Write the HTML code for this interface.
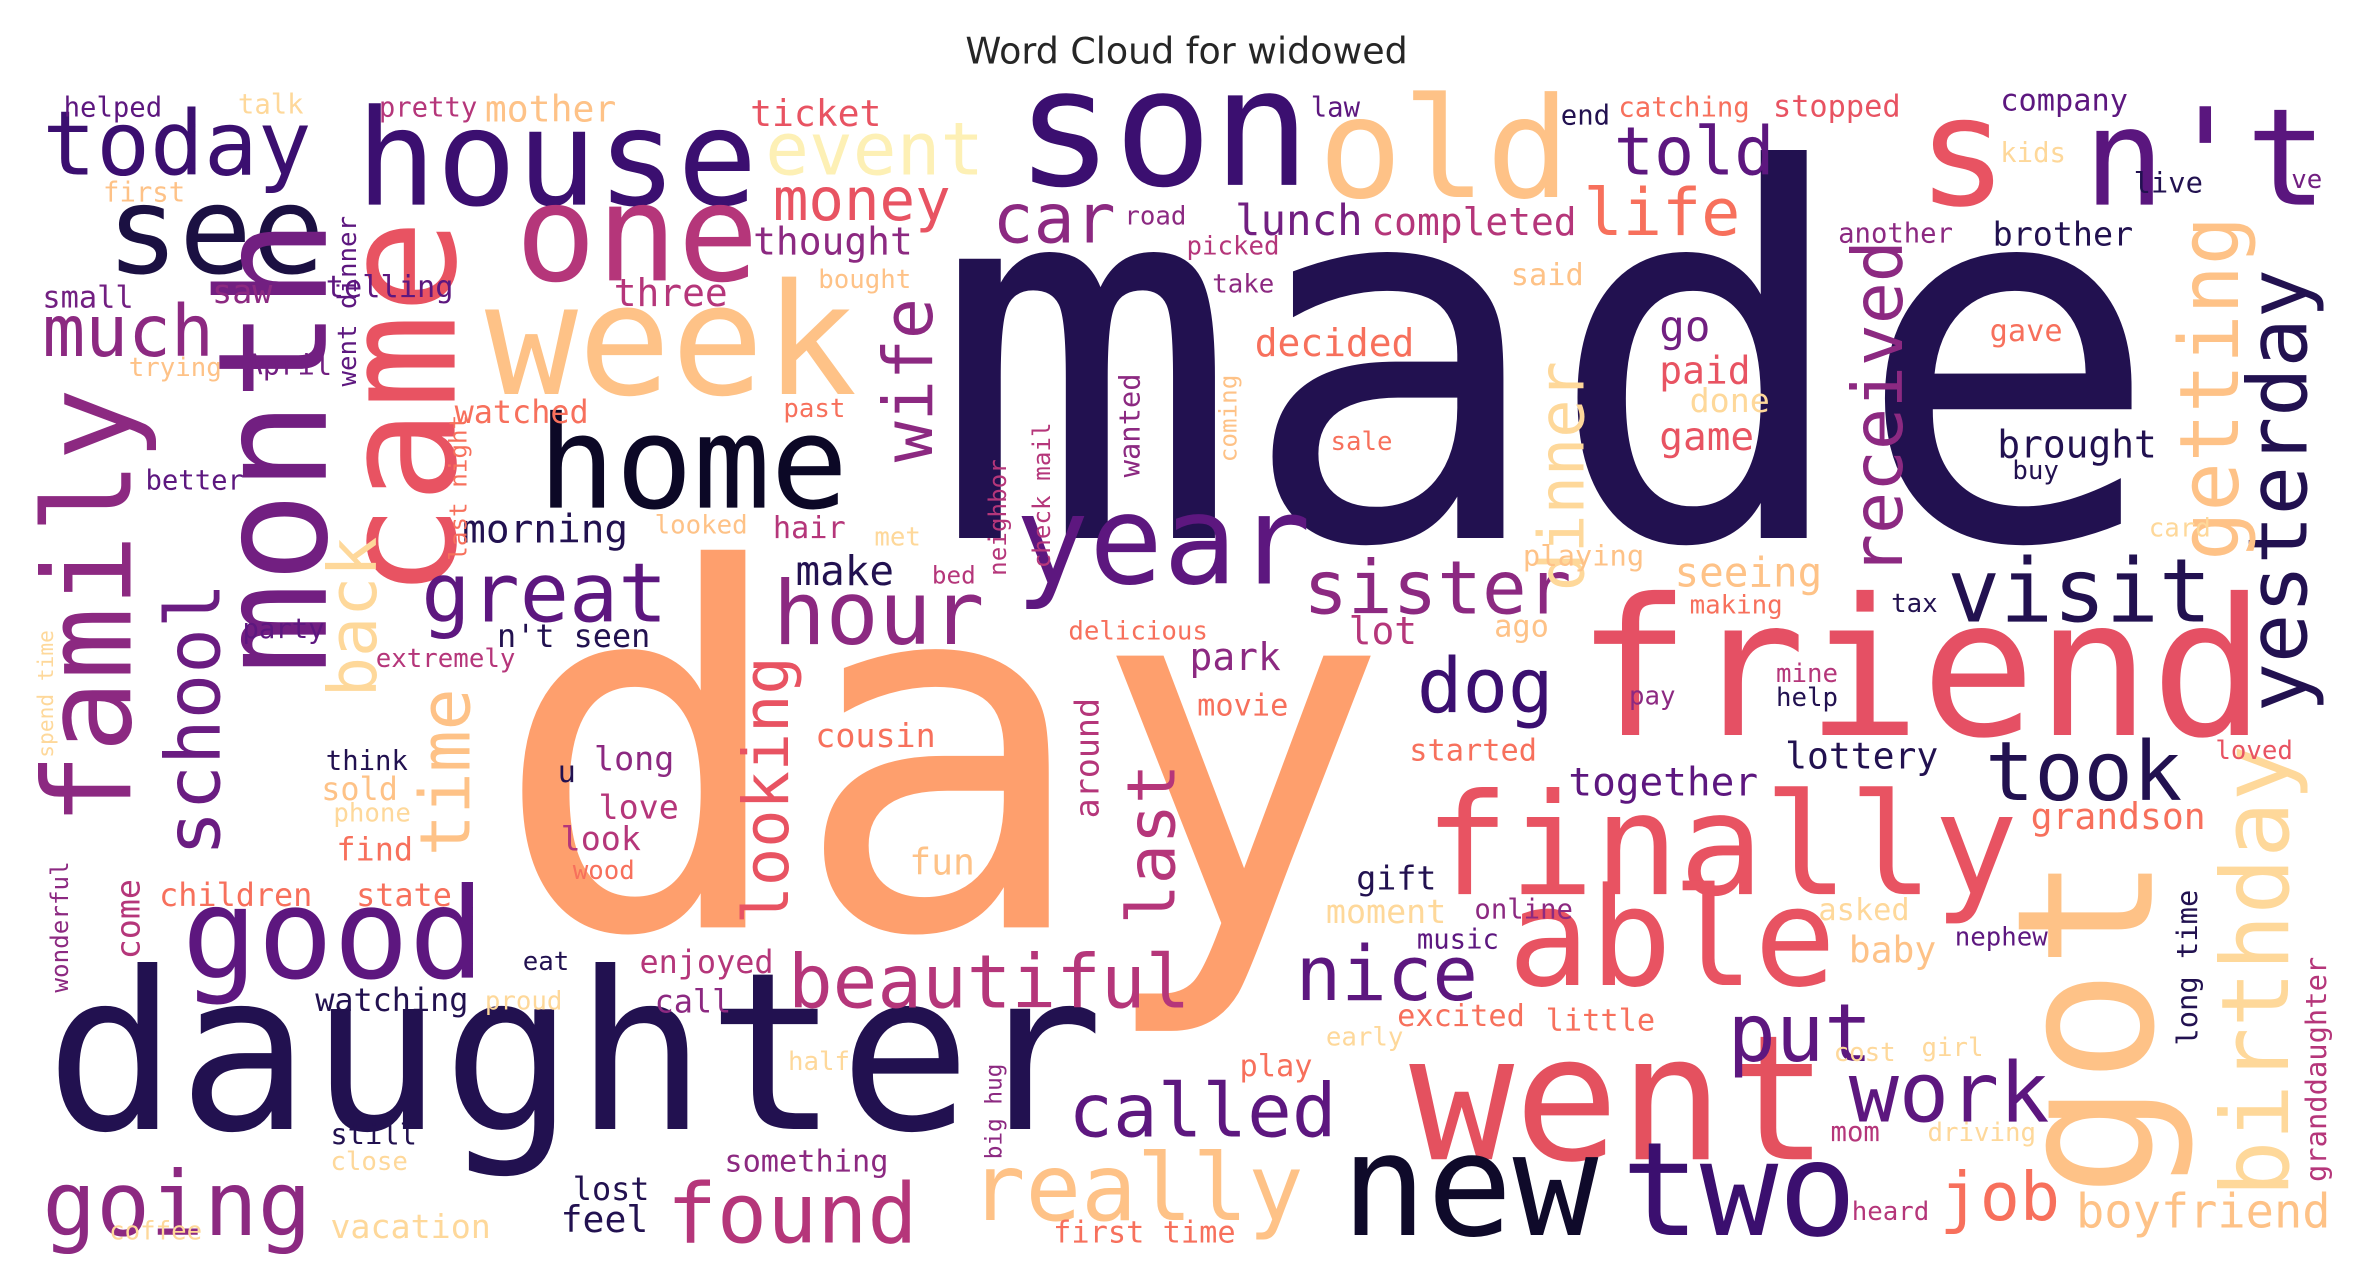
<!DOCTYPE html>
<html><head><meta charset="utf-8"><style>
html,body{margin:0;padding:0;background:#fff;}
svg{display:block;}
</style></head><body>
<svg id="chart" width="2370" height="1276" viewBox="0 0 1564 842" xmlns="http://www.w3.org/2000/svg">
<rect width="1564" height="842" fill="#fff"/>
<text x="783" y="42" text-anchor="middle" font-family="DejaVu Sans, Liberation Sans, sans-serif" font-size="24" fill="#262626">Word Cloud for widowed</text>
<g id="cloud" font-family="DejaVu Sans Mono, Liberation Mono, monospace"></g>
</svg>
<script>
// word, font size (frequency weight), color
const words = [
["made",337,"#221150",615,355,0],["day",328,"#fe9f6d",325,612,0],["daughter",145,"#221150",30,745,0],
["friend",126,"#e55064",1040,485,0],["finally",93,"#e85362",940,590,0],["went",115,"#e4515f",930,765,0],
["new",94,"#0f0a2a",885,815,0],["two",86,"#3b0f6f",1070,815,0],["son",108,"#3b0f70",670,122,0],
["old",92,"#fec287",870,130,0],["s",100,"#e85362",1265,135,0],["n't",89,"#5a167e",1375,135,0],
["house",88,"#3b0f70",235,135,0],["one",89,"#b5367a",340,185,0],["today",59,"#3b0f70",28,115,0],
["see",80,"#1b1042",70,180,0],["week",102,"#fec287",320,260,0],["home",85,"#0c0826",355,335,0],
["came",104,"#e85362",300,395,1],["month",100,"#721f81",215,445,1],["family",80,"#8c2981",86,545,1],
["school",50,"#6a1c81",145,565,1],["good",83,"#5d177f",120,645,0],["going",59,"#8c2981",28,815,0],
["much",47,"#8c2981",28,235,0],["year",81,"#5d177f",670,385,0],["great",54,"#5d177f",278,410,0],
["hour",58,"#8c2981",510,425,0],["sister",49,"#8c2981",860,405,0],["visit",58,"#221150",1285,410,0],
["dog",50,"#3b0f70",935,470,0],["took",54,"#221150",1310,528,0],["able",90,"#e85362",995,650,0],
["got",125,"#fec287",1420,790,1],["birthday",62,"#fed89a",1510,790,1],["yesterday",54,"#221150",1522,470,1],
["getting",54,"#fec287",1477,370,1],["received",46,"#8c2981",1255,380,1],["dinner",42,"#fed89a",1045,390,1],
["wife",45,"#8c2981",615,305,1],["looking",42,"#e85362",520,610,1],["last",44,"#b5367a",775,610,1],
["back",44,"#fed89a",248,460,1],["time",46,"#fec287",310,565,1],["beautiful",49,"#b5367a",520,665,0],
["found",55,"#b5367a",440,820,0],["really",61,"#fec287",640,805,0],["called",49,"#5d177f",705,750,0],
["nice",50,"#5d177f",855,660,0],["put",53,"#5d177f",1140,700,0],["work",55,"#5d177f",1220,740,0],
["job",44,"#f7705c",1280,805,0],["boyfriend",31,"#fec287",1370,810,0],["money",39,"#e85362",510,145,0],
["event",48,"#fdf0b5",505,115,0],["car",45,"#8c2981",655,160,0],["told",44,"#5d177f",1065,115,0],
["life",43,"#f7705c",1045,155,0],["lunch",28,"#721f81",815,155,0],["completed",25,"#b5367a",905,155,0],
["thought",25,"#8c2981",497,168,0],["decided",25,"#f7705c",828,235,0],["go",28,"#721f81",1095,225,0],
["paid",25,"#e85362",1095,253,0],["game",26,"#e85362",1095,297,0],["done",22,"#fed89a",1115,272,0],
["brought",25,"#221150",1318,302,0],["brother",22,"#221150",1315,162,0],["another",18,"#8c2981",1213,160,0],
["company",20,"#5d177f",1320,73,0],["stopped",20,"#e85362",1170,77,0],["catching",18,"#f7705c",1068,77,0],
["end",18,"#221150",1030,82,0],["law",18,"#5d177f",865,77,0],["ticket",24,"#e85362",495,83,0],
["mother",24,"#fec287",320,80,0],["pretty",18,"#b5367a",250,77,0],["helped",18,"#5d177f",42,77,0],
["talk",18,"#fed89a",157,75,0],["first",18,"#fec287",68,133,0],["kids",18,"#fed89a",1320,107,0],
["live",19,"#221150",1408,127,0],["ve",17,"#721f81",1512,124,0],["road",17,"#8c2981",742,148,0],
["picked",17,"#b5367a",783,168,0],["take",17,"#8c2981",800,193,0],["said",20,"#fec287",997,188,0],
["bought",17,"#fec287",540,190,0],["small",20,"#721f81",28,203,0],["saw",22,"#8c2981",140,200,0],
["telling",20,"#5d177f",215,196,0],["three",25,"#b5367a",405,202,0],["gave",20,"#f7705c",1313,225,0],
["trying",17,"#fec287",85,248,0],["April",19,"#721f81",162,247,0],["watched",21,"#f7705c",300,279,0],
["past",17,"#f7705c",517,275,0],["sale",17,"#f7705c",878,297,0],["better",18,"#5d177f",96,323,0],
["morning",26,"#221150",305,358,0],["looked",17,"#fec287",432,352,0],["hair",20,"#b5367a",510,355,0],
["met",17,"#fed89a",577,360,0],["buy",17,"#221150",1328,316,0],["card",17,"#fed89a",1418,354,0],
["make",27,"#221150",525,386,0],["bed",16,"#b5367a",615,385,0],["playing",19,"#fec287",1005,373,0],
["seeing",27,"#fec287",1105,387,0],["making",17,"#f7705c",1115,405,0],["tax",17,"#221150",1248,404,0],
["party",18,"#5d177f",160,421,0],["n't seen",21,"#221150",328,427,0],["lot",25,"#b5367a",890,425,0],
["ago",20,"#fec287",986,420,0],["delicious",17,"#f7705c",705,422,0],["extremely",17,"#b5367a",248,440,0],
["park",25,"#8c2981",785,442,0],["mine",17,"#b5367a",1172,450,0],["help",17,"#221150",1172,466,0],
["pay",17,"#8c2981",1075,465,0],["movie",20,"#f7705c",790,472,0],["think",18,"#221150",215,508,0],
["long",22,"#8c2981",392,508,0],["cousin",22,"#f7705c",538,493,0],["started",20,"#f7705c",930,502,0],
["lottery",24,"#221150",1178,507,0],["loved",17,"#e85362",1462,501,0],["u",20,"#221150",368,516,0],
["sold",21,"#fec287",212,528,0],["together",26,"#5d177f",1035,525,0],["love",22,"#b5367a",395,540,0],
["phone",17,"#fed89a",220,542,0],["look",22,"#b5367a",370,561,0],["find",21,"#f7705c",222,568,0],
["fun",24,"#fec287",600,577,0],["grandson",24,"#f7705c",1340,547,0],["wood",17,"#f7705c",378,580,0],
["come",22,"#b5367a",92,633,1],["children",21,"#f7705c",105,598,0],["state",21,"#f7705c",235,598,0],
["moment",22,"#fed89a",875,609,0],["online",18,"#8c2981",973,606,0],["asked",20,"#fed89a",1200,607,0],
["music",18,"#5d177f",935,626,0],["gift",22,"#221150",895,587,0],["nephew",17,"#5d177f",1290,624,0],
["baby",24,"#fec287",1220,635,0],["eat",17,"#221150",345,640,0],["enjoyed",21,"#b5367a",422,642,0],
["call",21,"#8c2981",432,668,0],["proud",17,"#fed89a",320,666,0],["watching",21,"#221150",208,667,0],
["excited",20,"#f7705c",922,677,0],["little",20,"#f7705c",1020,680,0],["early",17,"#fed89a",875,690,0],
["cost",17,"#fed89a",1210,700,0],["girl",17,"#fed89a",1268,697,0],["half",17,"#fed89a",520,706,0],
["play",20,"#f7705c",818,710,0],["mom",18,"#b5367a",1208,753,0],["driving",17,"#fed89a",1272,753,0],
["still",19,"#221150",218,755,0],["something",20,"#8c2981",478,773,0],["close",17,"#fed89a",218,772,0],
["lost",21,"#221150",378,792,0],["feel",24,"#221150",370,813,0],["vacation",22,"#fed89a",218,817,0],
["coffee",17,"#fed89a",72,818,0],["first time",20,"#f7705c",695,820,0],["heard",17,"#b5367a",1222,805,0],
["went dinner",17,"#5d177f",235,255,1],["last night",16,"#f7705c",308,370,1],["wanted",19,"#8c2981",752,315,1],
["coming",16,"#fec287",816,305,1],["neighbor",16,"#b5367a",664,380,1],["check mail",16,"#b5367a",693,375,1],
["around",22,"#b5367a",725,540,1],["long time",19,"#221150",1450,690,1],["granddaughter",19,"#b5367a",1535,780,1],
["wonderful",16,"#8c2981",45,655,1],["spend time",14,"#fed89a",35,500,1],["big hug",15,"#8c2981",661,765,1]
];
const g = document.getElementById('cloud');
const NS = "http://www.w3.org/2000/svg";
words.forEach(w => {
  const t = document.createElementNS(NS, 'text');
  
  
  t.setAttribute('x', w[3]);
  t.setAttribute('y', w[4]);
  t.setAttribute('font-size', w[1]);
  t.setAttribute('fill', w[2]);
  if (w[5]) t.setAttribute('transform', 'rotate(-90 ' + w[3] + ' ' + w[4] + ')');
  t.textContent = w[0];
  g.appendChild(t);
});
</script>
</body></html>
